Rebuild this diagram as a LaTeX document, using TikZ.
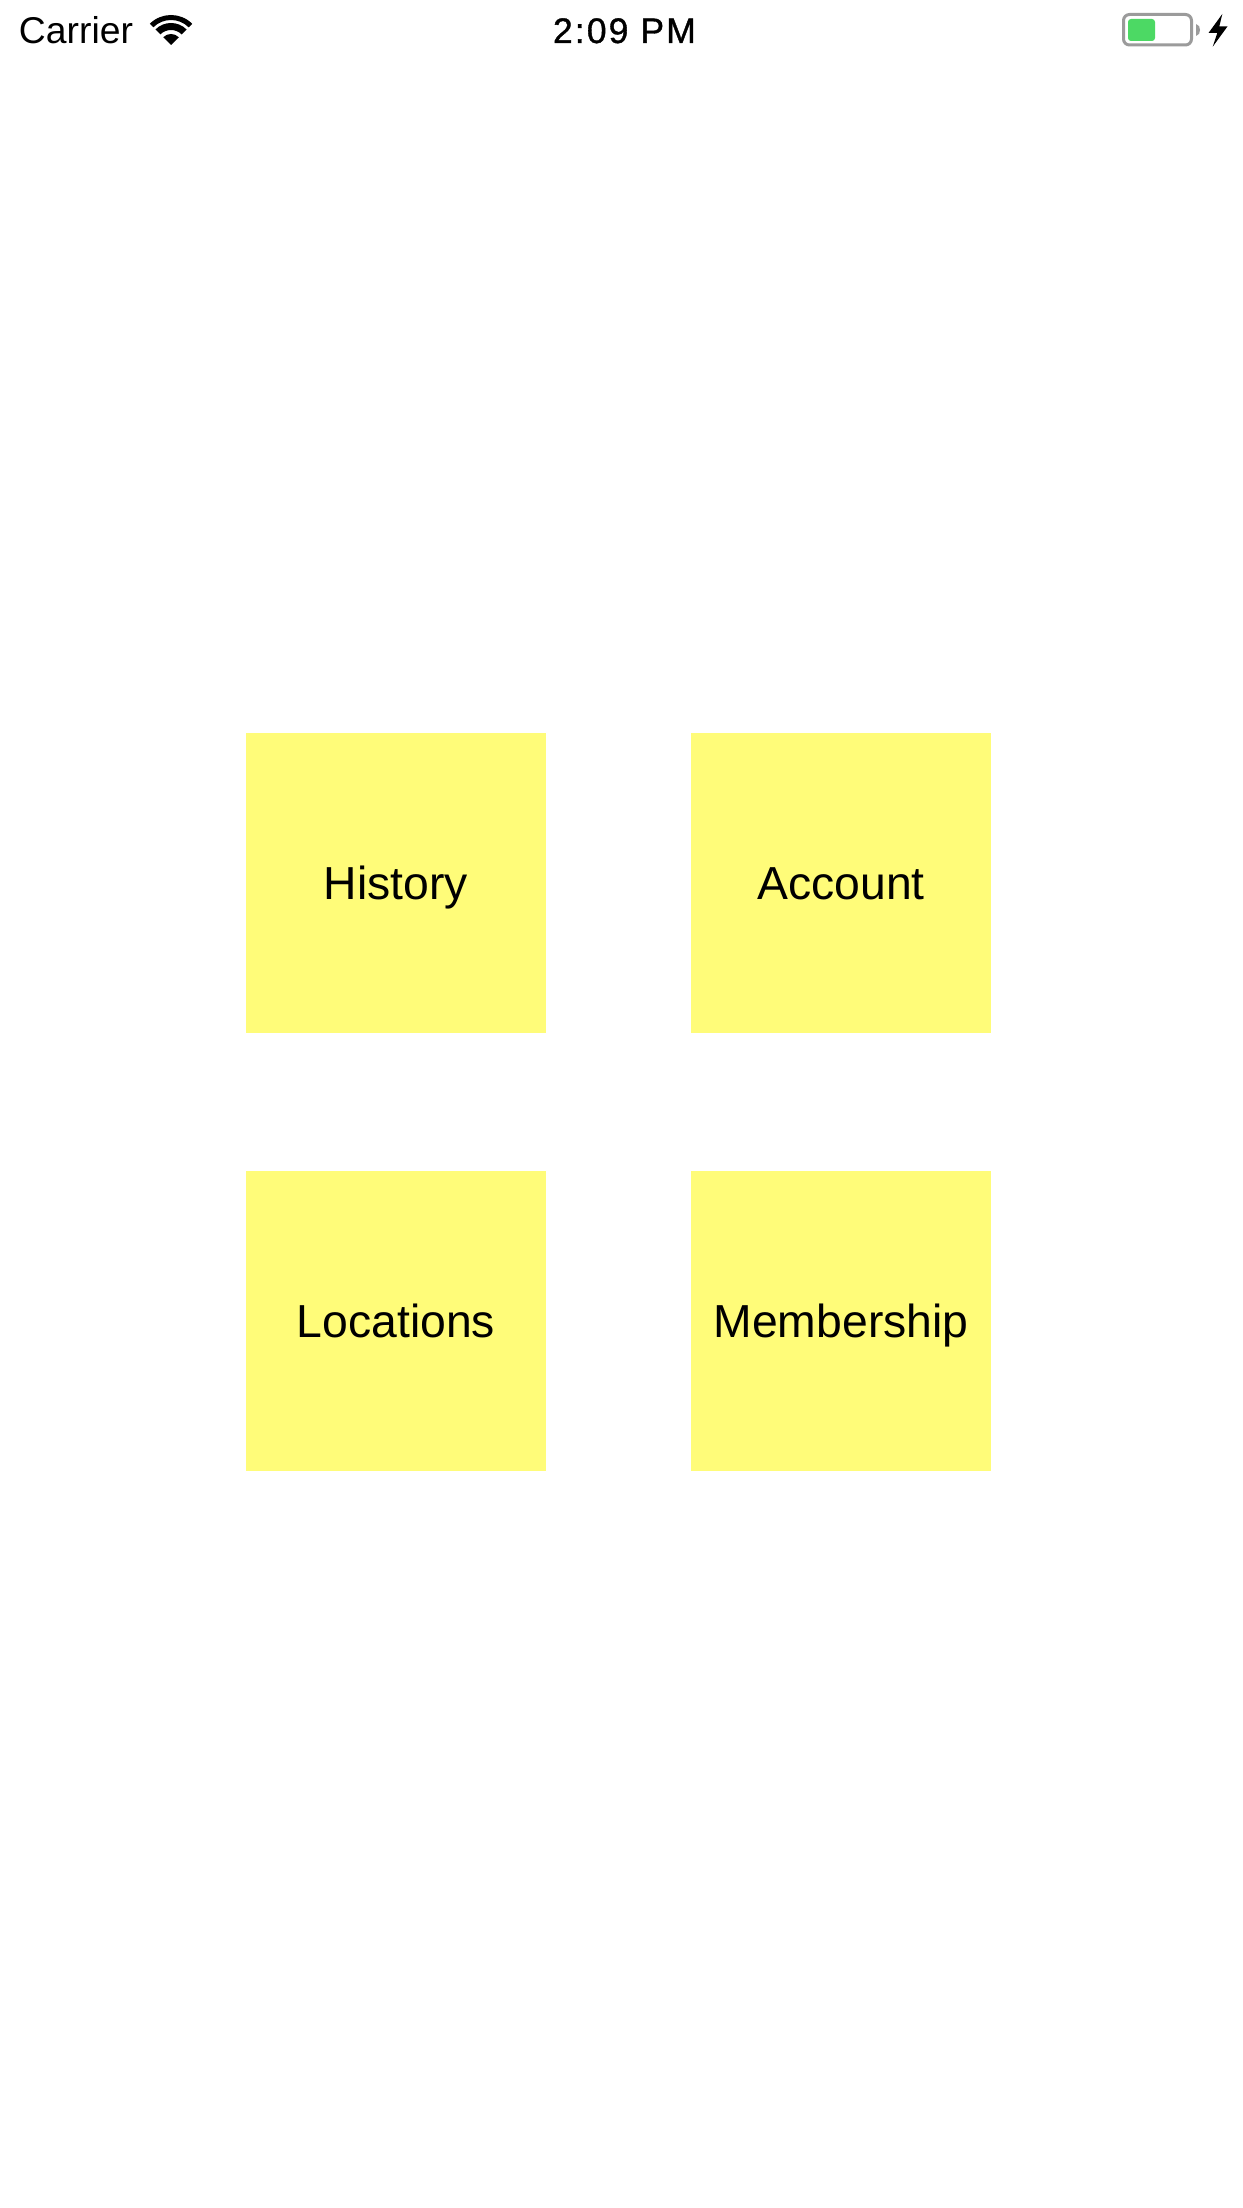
\documentclass[tikz,border=0pt]{standalone}
\usepackage{fontspec}
\setmainfont{Liberation Sans}
\newfontfamily\clockfont[LetterSpace=6,FakeBold=1]{Liberation Sans}
\definecolor{banana}{HTML}{FFFC79}
\definecolor{batgray}{HTML}{9B9B9B}
\definecolor{batgreen}{HTML}{4CD964}
\tikzset{
  tile/.style={fill=banana,inner sep=0pt,outer sep=0pt,minimum width=300pt,minimum height=300pt,
    text height=32pt,text depth=0pt,align=center,font=\fontsize{46.3pt}{50pt}\selectfont,text=black},
  statustext/.style={inner sep=0pt,outer sep=0pt,anchor=base west,text=black},
}
\begin{document}
\begin{tikzpicture}[x=1pt,y=-1pt]
\useasboundingbox (0,0) rectangle (1242,2208);
\fill[white] (0,0) rectangle (1242,2208);
% status bar
\node[statustext,font=\fontsize{37.3pt}{40pt}\selectfont] (carrier) at (19,44) {Carrier};
\begin{scope}[shift={(171,45)},y=1pt]
\fill[black] (0,0) -- (45:11) arc[start angle=45,end angle=135,radius=11] -- cycle;
\fill[black] (45:15) arc[start angle=45,end angle=135,radius=15] -- (135:22) arc[start angle=135,end angle=45,radius=22] -- cycle;
\fill[black] (45:25) arc[start angle=45,end angle=135,radius=25] -- (135:30) arc[start angle=135,end angle=45,radius=30] -- cycle;
\end{scope}
\node[statustext,font=\fontsize{35.5pt}{40pt}\clockfont] (clock) at (553,43) {2:09 PM};
\draw[batgray,line width=3pt,rounded corners=6pt] (1123.5,14.5) rectangle (1191.5,45);
\fill[batgreen,rounded corners=3pt] (1128,19) -- (1155,19) -- (1155,41) -- (1128,41) -- cycle;
\fill[batgray] (1196,24) .. controls (1199,25) and (1200,27) .. (1200,30) .. controls (1200,33) and (1199,35) .. (1196,36) -- cycle;
\fill[black] (1222.3,14) -- (1208.5,33) -- (1217.3,33) -- (1212.7,46.7) -- (1227.5,26.4) -- (1219.3,26.4) -- cycle;
% tiles
\node[tile] (history) at (396,883) {History};
\node[tile] (account) at (841,883) {Account};
\node[tile] (locations) at (396,1321) {Locations};
\node[tile] (membership) at (841,1321) {Membership};
\end{tikzpicture}
\end{document}
